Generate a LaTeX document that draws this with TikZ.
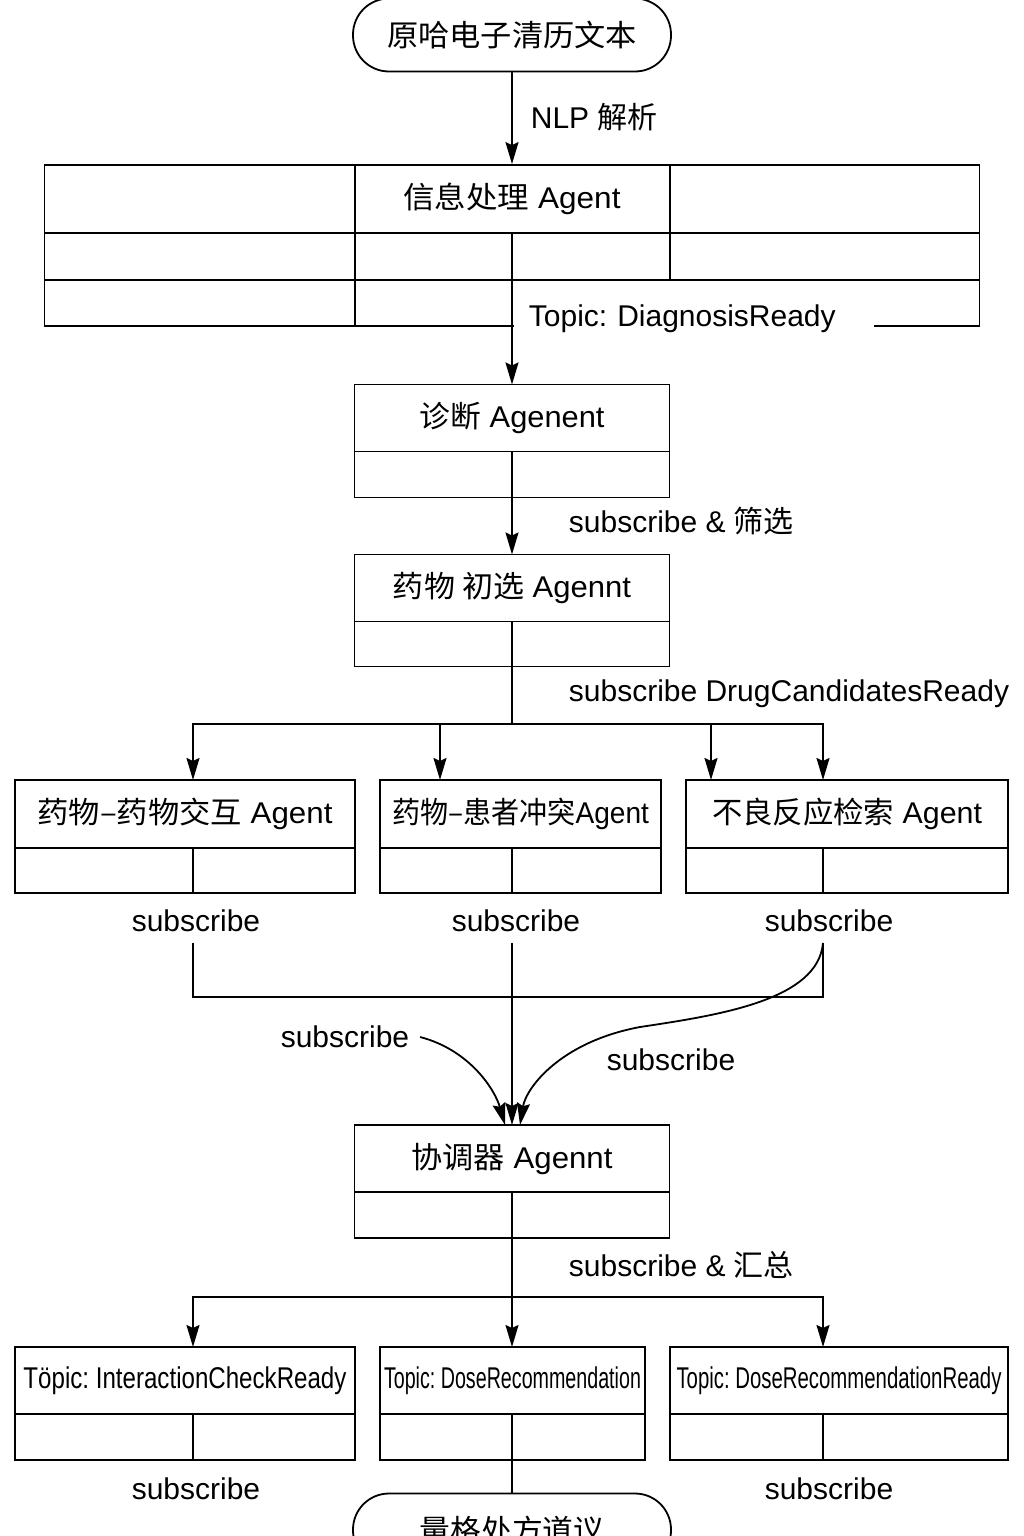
\documentclass[tikz,border=0pt]{standalone}
\usepackage{fontspec}
\setmainfont{Liberation Sans}
\newfontfamily\cjk{Noto Sans CJK SC}
\usepackage{graphicx}
\usetikzlibrary{positioning}
\usetikzlibrary{arrows.meta}
\newcommand{\fitto}[2]{\resizebox{#1}{\height}{#2}}
\frenchspacing

\tikzset{
  every node/.style={font=\fontsize{30}{36}\selectfont},
  arr/.style={-{Stealth[length=22pt,width=13pt,inset=3pt]}},
  term/.style={draw, rounded corners=36pt, minimum width=318pt, minimum height=73pt},
  hdr/.style={draw, minimum height=67pt, inner sep=0pt, outer sep=0pt},
  lowrow/.style={draw, minimum height=46pt, inner sep=0pt, outer sep=0pt, below=0pt of #1},
  lbl/.style={anchor=west, inner sep=0pt},
  sub/.style={inner sep=10pt}
}

\begin{document}
\begin{tikzpicture}[x=1pt, y=-1pt, line width=1.8pt]
\useasboundingbox (0,0) rectangle (1024,1536);
\clip (0,0) rectangle (1024,1536);

% input and information agent
\node[term] (ehr) at (512,35) {\fitto{250pt}{\cjk 原哈电子清历文本}};
\node[draw, minimum width=935pt, minimum height=161pt, inner sep=0pt] (info) at (512,245.5) {};
\node (infoname) at (512,199) {\fitto{217pt}{{\cjk 信息处理} Agent}};
\draw (44.5,233) -- (979.5,233) (44.5,280) -- (979.5,280)
      (355,165) -- (355,326) (670,165) -- (670,280);
\coordinate (infoout) at (512,233);
\node[fill=white, anchor=west, inner xsep=15pt, inner ysep=4pt, text width=330pt, align=left] (topicdiag) at (513,319) {Topic: DiagnosisReady};
\node[lbl] (nlp) at (530,117) {NLP {\cjk 解析}};
\draw[arr] (ehr) -- (info.north);

% diagnosis and drug screening
\node[hdr, minimum width=315pt] (diag) at (512,418) {\fitto{185pt}{{\cjk 诊断} Agenent}};
\node[lowrow=diag, minimum width=315pt] (diaglow) {};
\node[hdr, minimum width=315pt] (drug) at (512,588) {\fitto{238pt}{{\cjk 药物 初选} Agennt}};
\node[lowrow=drug, minimum width=315pt, minimum height=45pt] (druglow) {};
\node[lbl] (screen) at (568,521) {subscribe \& {\cjk 筛选}};
\node[lbl] (cand) at (568,694) {subscribe DrugCandidatesReady};
\draw[arr] (infoout) -- (diag.north);
\draw[arr] (diag.south) -- (drug.north);

% three checking agents
\coordinate (bus1) at (512,724);
\coordinate (inA) at (193,780);
\coordinate (inB) at (440,780);
\coordinate (inC1) at (711,780);
\coordinate (inC2) at (823,780);
\node[hdr, minimum width=340pt, minimum height=68pt] (ddi) at (185,814) {\fitto{295pt}{{\cjk 药物–药物交互} Agent}};
\node[lowrow=ddi, minimum width=340pt, minimum height=45pt] (ddilow) {};
\node[hdr, minimum width=281pt, minimum height=68pt] (dpi) at (520.5,814) {\fitto{257pt}{{\cjk 药物–患者冲突}Agent}};
\node[lowrow=dpi, minimum width=281pt, minimum height=45pt] (dpilow) {};
\node[hdr, minimum width=322pt, minimum height=68pt] (ade) at (847,814) {\fitto{270pt}{{\cjk 不良反应检索} Agent}};
\node[lowrow=ade, minimum width=322pt, minimum height=45pt] (adelow) {};
\draw (drug.south) -- (bus1);
\draw[arr] (bus1) -| (inA);
\draw[arr] (bus1) -| (inB);
\draw[arr] (bus1) -| (inC1);
\draw[arr] (bus1) -| (inC2);
\draw (ddilow.north -| inA) -- (ddilow.south -| inA);
\draw (dpilow.north -| bus1) -- (dpilow.south -| bus1);
\draw (adelow.north -| inC2) -- (adelow.south -| inC2);

% merging into the coordinator
\node[sub] (subA) at (196,921) {subscribe};
\node[sub] (subB) at (516,921) {subscribe};
\node[sub] (subC) at (829,921) {subscribe};
\node[sub] (subL) at (345,1037) {subscribe};
\node[sub] (subR) at (671,1060) {subscribe};
\node[hdr, minimum width=315pt] (coord) at (512,1158.5) {\fitto{201pt}{{\cjk 协调器} Agennt}};
\node[lowrow=coord, minimum width=315pt] (coordlow) {};
\coordinate (merge) at (512,997);
\draw (subA.south -| inA) -- (inA |- merge) -- (inC2 |- merge) -- (subC.south -| inC2);
\draw[arr] (subB.south -| bus1) -- (coord.north);
\draw[arr] (subC.south -| inC2) .. controls (818,1000) and (720,1015) .. (640,1027)
      .. controls (560,1042) and (526,1088) .. ([xshift=8pt]coord.north);
\draw[arr] (subL.east) .. controls (470,1050) and (495,1090) .. ([xshift=-7pt]coord.north);

% topics and final output
\node[lbl] (sumup) at (568,1265) {subscribe \& {\cjk 汇总}};
\coordinate (bus2) at (512,1297);
\coordinate (inD) at (193,1347);
\coordinate (inE) at (512,1347);
\coordinate (inF) at (823,1347);
\node[hdr, minimum width=340pt] (icr) at (185,1380.5) {\fitto{323pt}{Töpic: InteractionCheckReady}};
\node[lowrow=icr, minimum width=340pt] (icrlow) {};
\node[hdr, minimum width=265pt] (dose) at (512.5,1380.5) {\fitto{257pt}{Topic: DoseRecommendation}};
\node[lowrow=dose, minimum width=265pt] (doselow) {};
\node[hdr, minimum width=338pt] (doseready) at (839,1380.5) {\fitto{325pt}{Topic: DoseRecommendationReady}};
\node[lowrow=doseready, minimum width=338pt] (dosereadylow) {};
\draw (coord.south) -- (bus2);
\draw[arr] (bus2) -| (inD);
\draw[arr] (bus2) -- (inE);
\draw[arr] (bus2) -| (inF);
\draw (icrlow.north -| inD) -- (icrlow.south -| inD);
\draw (dosereadylow.north -| inF) -- (dosereadylow.south -| inF);
\node[sub] (subD) at (196,1489) {subscribe};
\node[sub] (subF) at (829,1489) {subscribe};
\node[term] (final) at (512,1530) {\fitto{185pt}{\cjk 量格处方道议}};
\draw (dose.south -| inE) -- (final.north);
\end{tikzpicture}
\end{document}
